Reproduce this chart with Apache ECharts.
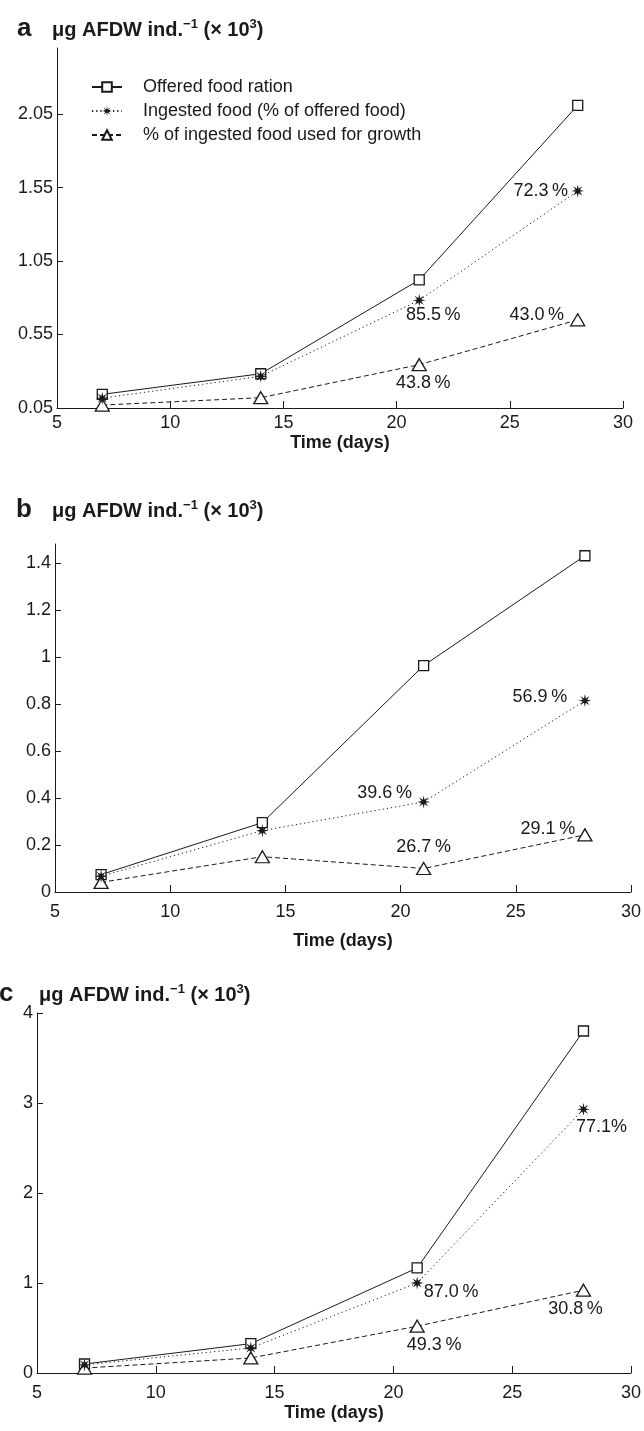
<!DOCTYPE html>
<html>
<head>
<meta charset="utf-8">
<script src="https://cdn.jsdelivr.net/npm/echarts@6/dist/echarts.min.js"></script>
<style>
html,body{margin:0;padding:0;background:#fff;}
#chart{width:644px;height:1431px;}
</style>
</head>
<body>
<div id="chart"></div>
<script>
// ---------- data ----------
const days = [7, 14, 21, 28];
const seriesNames = ['Offered food ration', 'Ingested food (% of offered food)', '% of ingested food used for growth'];

const offeredA  = [0.143, 0.283, 0.922, 2.11];
const ingestedA = [0.117, 0.266, 0.783, 1.527];
const growthA   = [0.07, 0.12, 0.345, 0.65];
const ingestedPctA = [null, null, '85.5\u2009%', '72.3\u2009%'];
const growthPctA   = [null, null, '43.8\u2009%', '43.0\u2009%'];

const offeredB  = [0.074, 0.295, 0.963, 1.43];
const ingestedB = [0.067, 0.261, 0.383, 0.814];
const growthB   = [0.041, 0.15, 0.10, 0.243];
const ingestedPctB = [null, null, '39.6\u2009%', '56.9\u2009%'];
const growthPctB   = [null, null, '26.7\u2009%', '29.1\u2009%'];

const offeredC  = [0.10, 0.326, 1.167, 3.80];
const ingestedC = [0.09, 0.278, 1.0, 2.93];
const growthC   = [0.055, 0.167, 0.52, 0.92];
const ingestedPctC = [null, null, '87.0\u2009%', '77.1%'];
const growthPctC   = [null, null, '49.3\u2009%', '30.8\u2009%'];

const xTicks  = [5, 10, 15, 20, 25, 30];
const yTicksA = [0.05, 0.55, 1.05, 1.55, 2.05];
const yTicksB = [0, 0.2, 0.4, 0.6, 0.8, 1, 1.2, 1.4];
const yTicksC = [0, 1, 2, 3, 4];
const panelLetters = ['a', 'b', 'c'];
const yTitleParts = ['\u03bcg AFDW ind.', '\u22121', ' (\u00d7 10', '3', ')'];
const xTitle = 'Time (days)';

// ---------- styles / layout ----------
const INK = '#1a1a1a';
const FONT = 'Liberation Sans, Arial, Helvetica, sans-serif';
const FS = 18;

// label centre offsets from the marker (style only)
const labelOffset = {
  a: { ing: [null, null, [14, 15], [-37, 0]],  gro: [null, null, [4, 18], [-41, -5]] },
  b: { ing: [null, null, [-39, -9], [-45, -4]], gro: [null, null, [0, -21], [-37, -6]] },
  c: { ing: [null, null, [34, 9], [18, 18]],   gro: [null, null, [17, 19], [-8, 19]] }
};

const grids = [
  {left: 57, top: 48, width: 566, height: 360},
  {left: 55, top: 544, width: 576, height: 348},
  {left: 37, top: 1013, width: 594, height: 360}
];
const yRanges = [
  {min: 0.05, max: 2.5, ticks: yTicksA},
  {min: 0, max: 1.48, ticks: yTicksB},
  {min: 0, max: 4, ticks: yTicksC}
];
const labelMargin = [6, 11, 11];
const nameGaps = [26, 40, 31];
const titleTop = [13, 494, 978];
const titleLeft = [47, 47, 34];
const letterLeft = [12, 11, -6];

// asterisk-like 8-point star path
function starPath() {
  let d = '';
  for (let i = 0; i < 16; i++) {
    const a = i * Math.PI / 8 - Math.PI / 2;
    const r = (i % 2 === 0) ? 50 : 18;
    const x = (50 + r * Math.cos(a)).toFixed(2);
    const y = (50 + r * Math.sin(a)).toFixed(2);
    d += (i === 0 ? 'M' : 'L') + x + ' ' + y + ' ';
  }
  return 'path://' + d + 'Z';
}
const STAR = starPath();

function pts(vals, labels, offs) {
  return days.map((d, i) => {
    const item = {value: [d, vals[i]]};
    if (labels && labels[i]) {
      item.label = {
        show: true, formatter: labels[i], position: 'inside',
        align: 'center', verticalAlign: 'middle',
        offset: offs[i] || [0, 0], color: INK, fontSize: FS, fontFamily: FONT
      };
    }
    return item;
  });
}

const panels = [
  {o: offeredA, i: ingestedA, g: growthA, ip: ingestedPctA, gp: growthPctA, key: 'a'},
  {o: offeredB, i: ingestedB, g: growthB, ip: ingestedPctB, gp: growthPctB, key: 'b'},
  {o: offeredC, i: ingestedC, g: growthC, ip: ingestedPctC, gp: growthPctC, key: 'c'}
];

const xAxes = [], yAxes = [], series = [], titles = [];

panels.forEach((p, k) => {
  xAxes.push({
    type: 'value', gridIndex: k, min: xTicks[0], max: xTicks[xTicks.length - 1], interval: 5,
    name: xTitle, nameLocation: 'middle', nameGap: nameGaps[k],
    nameTextStyle: {color: INK, fontSize: FS, fontWeight: 'bold', fontFamily: FONT},
    axisLine: {show: true, lineStyle: {color: INK, width: 1}},
    axisTick: {show: true, inside: true, length: 7, lineStyle: {color: INK}},
    axisLabel: {color: INK, fontSize: FS, fontFamily: FONT, margin: labelMargin[k]},
    splitLine: {show: false}
  });
  const yr = yRanges[k];
  yAxes.push({
    type: 'value', gridIndex: k, min: yr.min, max: yr.max,
    axisLine: {show: true, lineStyle: {color: INK, width: 1}},
    axisTick: {show: true, inside: true, length: 6, lineStyle: {color: INK}, customValues: yr.ticks},
    axisLabel: {color: INK, fontSize: FS, fontFamily: FONT, margin: 4, customValues: yr.ticks,
                formatter: v => String(+(+v).toFixed(2))},
    splitLine: {show: false}
  });
  titles.push({text: panelLetters[k], left: letterLeft[k], top: titleTop[k] - 2,
               textStyle: {color: INK, fontSize: 26, fontWeight: 'bold', fontFamily: FONT}});
  titles.push({
    text: '{b|' + yTitleParts[0] + '}{s|' + yTitleParts[1] + '}{b|' + yTitleParts[2] + '}{s|' + yTitleParts[3] + '}{b|' + yTitleParts[4] + '}',
    left: titleLeft[k], top: titleTop[k],
    textStyle: {
      rich: {
        b: {color: INK, fontSize: 20, fontWeight: 'bold', fontFamily: FONT, lineHeight: 22, verticalAlign: 'bottom'},
        s: {color: INK, fontSize: 13, fontWeight: 'bold', fontFamily: FONT, lineHeight: 13, verticalAlign: 'top'}
      }
    }
  });
  const lo = labelOffset[p.key];
  series.push({
    name: seriesNames[0], type: 'line', xAxisIndex: k, yAxisIndex: k,
    data: pts(p.o), symbol: 'rect', symbolSize: 10, z: 3,
    itemStyle: {color: '#fff', borderColor: INK, borderWidth: 1.3},
    lineStyle: {color: INK, width: 1, type: 'solid'}
  });
  series.push({
    name: seriesNames[1], type: 'line', xAxisIndex: k, yAxisIndex: k,
    data: pts(p.i, p.ip, lo.ing), symbol: STAR, symbolSize: 13, z: 4,
    itemStyle: {color: INK, borderColor: INK, borderWidth: 0},
    lineStyle: {color: INK, width: 1, type: [1.2, 3]}
  });
  series.push({
    name: seriesNames[2], type: 'line', xAxisIndex: k, yAxisIndex: k,
    data: pts(p.g, p.gp, lo.gro), symbol: 'triangle', symbolSize: [14, 12], z: 3,
    itemStyle: {color: '#fff', borderColor: INK, borderWidth: 1.3},
    lineStyle: {color: INK, width: 1, type: [5, 3]}
  });
});

const chart = echarts.init(document.getElementById('chart'), null, {renderer: 'canvas'});
chart.setOption({
  backgroundColor: '#fff',
  animation: false,
  title: titles,
  legend: {
    data: seriesNames, orient: 'vertical', left: 86, top: 73, itemGap: 6,
    itemWidth: 30, itemHeight: 12, selectedMode: false,
    textStyle: {color: INK, fontSize: FS, fontFamily: FONT, padding: [0, 0, 0, 16]}
  },
  grid: grids,
  xAxis: xAxes,
  yAxis: yAxes,
  series: series
});
</script>
</body>
</html>
